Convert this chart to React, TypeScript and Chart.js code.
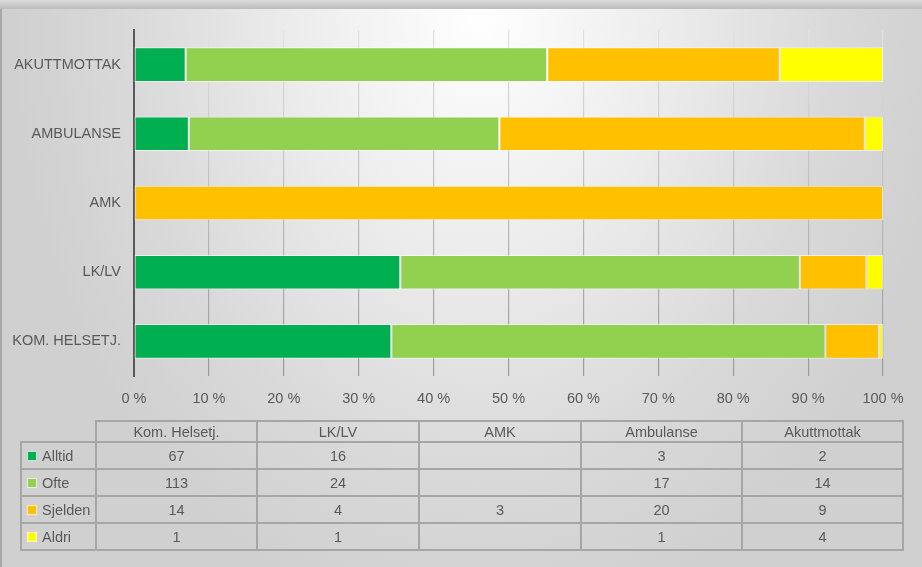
import React, { useEffect, useRef } from 'react';
import { Chart, registerables } from 'chart.js';

Chart.register(...registerables);

// ---------- data ----------
const categories = ['Kom. Helsetj.', 'LK/LV', 'AMK', 'Ambulanse', 'Akuttmottak'];
const seriesNames = ['Alltid', 'Ofte', 'Sjelden', 'Aldri'];
const alltid: (number | null)[] = [67, 16, null, 3, 2];
const ofte: (number | null)[] = [113, 24, null, 17, 14];
const sjelden: (number | null)[] = [14, 4, 3, 20, 9];
const aldri: (number | null)[] = [1, 1, null, 1, 4];
const seriesColors = ['#00B050', '#92D050', '#FFC000', '#FFFF00'];
const tickSuffix = ' %';

const FONT = '"Liberation Sans", Arial, sans-serif';
const TEXT = '#595959';
const LINE = '#a6a6a6';

// table geometry (layout only)
const colX = [21, 96, 257, 419, 581, 742, 903];
const headTop = 421;
const rowY = [442, 469, 496, 523, 550];

function Cell(props: { x0: number; x1: number; y0: number; y1: number; children?: React.ReactNode; align?: 'center' | 'left' }) {
  const { x0, x1, y0, y1, children, align } = props;
  return (
    <div
      style={{
        position: 'absolute',
        left: x0 - 1,
        top: y0 - 1,
        width: x1 - x0 + 2,
        height: y1 - y0 + 2,
        border: `2px solid ${LINE}`,
        boxSizing: 'border-box',
        display: 'flex',
        alignItems: 'center',
        justifyContent: align === 'left' ? 'flex-start' : 'center',
        font: `14.5px ${FONT}`,
        color: TEXT,
        whiteSpace: 'nowrap',
      }}
    >
      {children}
    </div>
  );
}

export default function App() {
  const ref = useRef<HTMLCanvasElement>(null);

  useEffect(() => {
    const series = [alltid, ofte, sjelden, aldri];
    const totals = categories.map((_, i) => series.reduce((s, arr) => s + (arr[i] ?? 0), 0));
    const chart = new Chart(ref.current as HTMLCanvasElement, {
      type: 'bar',
      data: {
        labels: categories,
        datasets: series.map((arr, k) => ({
          label: seriesNames[k],
          data: arr.map((v, i) => (v == null ? null : (v / totals[i]) * 100)),
          backgroundColor: seriesColors[k],
          borderColor: 'rgba(255,255,255,0.6)',
          borderWidth: 1,
          borderSkipped: false,
          barPercentage: 1,
          categoryPercentage: 0.5,
        })),
      },
      options: {
        indexAxis: 'y',
        animation: false,
        responsive: false,
        maintainAspectRatio: false,
        layout: { padding: { top: 30, right: 39, bottom: 151, left: 0 } },
        plugins: { legend: { display: false }, tooltip: { enabled: false } },
        scales: {
          x: {
            stacked: true,
            min: 0,
            max: 100,
            ticks: {
              stepSize: 10,
              maxRotation: 0,
              autoSkip: false,
              callback: (v: any) => v + tickSuffix,
              color: TEXT,
              font: { family: FONT, size: 14.5 },
              padding: 14,
            },
            grid: {
              drawTicks: false,
              lineWidth: 1.2,
              color: (c: any) => {
                const ch = c.chart;
                const a = ch.chartArea;
                if (!a) return '#b8b8b8';
                const g = ch.ctx.createLinearGradient(0, a.top, 0, a.bottom);
                g.addColorStop(0, '#e2e2e2');
                g.addColorStop(0.5, '#bcbcbc');
                g.addColorStop(1, '#9a9a9a');
                return g;
              },
            },
            border: { display: false },
            afterFit: (s: any) => {
              s.height = 40;
            },
          },
          y: {
            stacked: true,
            reverse: true,
            ticks: {
              callback: (v: any) => categories[v as number].toUpperCase(),
              color: TEXT,
              font: { family: FONT, size: 14.5 },
              padding: 13,
            },
            grid: { display: false, drawTicks: false },
            border: { display: true, color: '#595959', width: 2 },
            afterFit: (s: any) => {
              s.width = 134;
            },
          },
        },
      },
    } as any);
    return () => chart.destroy();
  }, []);

  const series = [alltid, ofte, sjelden, aldri];

  return (
    <div
      style={{
        position: 'fixed',
        left: 0,
        top: 0,
        width: 922,
        height: 567,
        overflow: 'hidden',
        background:
          'radial-gradient(ellipse 470px 620px at 480px 10px, #ffffff 0%, #ececec 40%, #d9d9d9 75%, #d0d0d0 100%)',
      }}
    >
      <div style={{ position: 'absolute', left: 0, top: 0, width: 922, height: 9, background: 'linear-gradient(#dadada 0%, #d2d2d2 30%, #bdbdbd 100%)' }} />
      <div style={{ position: 'absolute', left: 0, top: 9, width: 2, height: 558, background: '#a8a8a8' }} />
      <canvas ref={ref} width={922} height={567} style={{ position: 'absolute', left: 0, top: 0, display: 'block' }} />
      {categories.map((c, i) => (
        <Cell key={'h' + i} x0={colX[i + 1]} x1={colX[i + 2]} y0={headTop} y1={rowY[0]}>
          {c}
        </Cell>
      ))}
      {seriesNames.map((name, r) => (
        <React.Fragment key={'r' + r}>
          <Cell x0={colX[0]} x1={colX[1]} y0={rowY[r]} y1={rowY[r + 1]} align="left">
            <span
              style={{
                display: 'inline-block',
                width: 10,
                height: 10,
                marginLeft: 5,
                marginRight: 5,
                background: seriesColors[r],
                border: '1px solid rgba(255,255,255,0.75)',
                boxSizing: 'border-box',
              }}
            />
            {name}
          </Cell>
          {categories.map((c, i) => (
            <Cell key={'c' + r + '-' + i} x0={colX[i + 1]} x1={colX[i + 2]} y0={rowY[r]} y1={rowY[r + 1]}>
              {series[r][i] == null ? '' : String(series[r][i])}
            </Cell>
          ))}
        </React.Fragment>
      ))}
    </div>
  );
}
